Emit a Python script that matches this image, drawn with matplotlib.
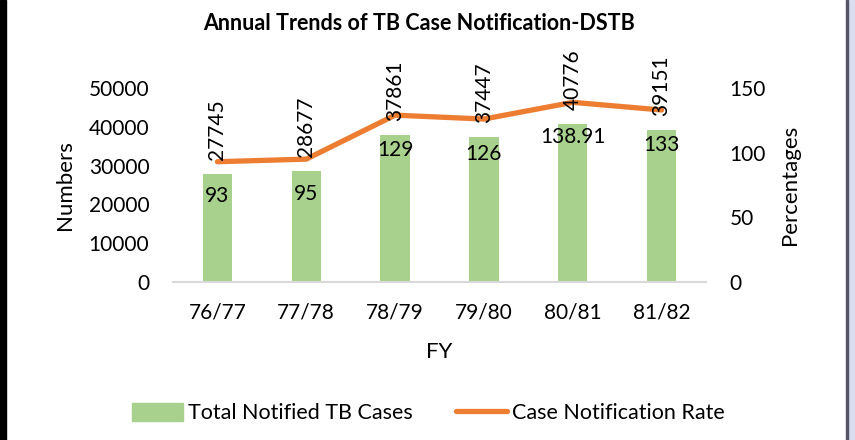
import matplotlib
matplotlib.use("Agg")
import matplotlib.pyplot as plt
from matplotlib.patches import Rectangle, Patch
from matplotlib.lines import Line2D
import numpy as np

# data
years = ["76/77", "77/78", "78/79", "79/80", "80/81", "81/82"]
cases = [27745, 28677, 37861, 37447, 40776, 39151]
rate = [93, 95, 129, 126, 138.91, 133]
rate_labels = ["93", "95", "129", "126", "138.91", "133"]

GREEN = "#A9D18E"
ORANGE = "#ED7D31"
plt.rcParams["font.family"] = ["Lato", "DejaVu Sans"]

W, H = 855, 440
fig = plt.figure(figsize=(W / 100, H / 100), dpi=100)
ax = fig.add_axes([173 / W, 1 - 282 / H, (706 - 173) / W, (282 - 88) / H])
ax2 = ax.twinx()

x = np.arange(len(years))
ax.bar(x, cases, width=0.33, color=GREEN, zorder=1)
ax.set_xlim(-0.5, len(years) - 0.5)
ax.set_ylim(0, 50000)
ax.set_yticks(range(0, 50001, 10000))
ax.set_xticks(x)
ax.set_xticklabels(years)

ax2.plot(x, rate, color=ORANGE, lw=3.8, solid_capstyle="round", zorder=3)
ax2.set_ylim(0, 150)
ax2.set_yticks([0, 50, 100, 150])

for a in (ax, ax2):
    for s in a.spines.values():
        s.set_visible(False)
ax.spines["bottom"].set_visible(True)
ax.spines["bottom"].set_color("#D9D9D9")
ax.spines["bottom"].set_linewidth(1.5)

ax.tick_params(axis="both", length=0, labelsize=15)
ax.tick_params(axis="y", pad=17)
ax.tick_params(axis="x", pad=15)
ax2.tick_params(axis="y", length=0, labelsize=15, pad=17)

# rotated bar value labels above bars, drawn over the line
for xi, v in zip(x, cases):
    ax2.annotate(str(v), (xi, v), xycoords=ax.transData, xytext=(0, 10),
                 textcoords="offset points", rotation=90, ha="center",
                 va="bottom", fontsize=15, zorder=5, annotation_clip=False)
# rate labels below line points
for xi, v, t in zip(x, rate, rate_labels):
    ax2.annotate(t, (xi, v), xytext=(0, -25), textcoords="offset points",
                 ha="center", va="center", fontsize=15, zorder=5,
                 annotation_clip=False)

ax.set_ylabel("Numbers", fontsize=16, labelpad=10)
ax2.set_ylabel("Percentages", fontsize=16, labelpad=10)
ax.set_xlabel("FY", fontsize=16, labelpad=14)
fig.text(419 / W, 1 - 23 / H, "Annual Trends of TB Case Notification-DSTB",
         ha="center", va="center", fontsize=15.5, fontweight="bold")

handles = [Patch(color=GREEN), Line2D([], [], color=ORANGE, lw=3.8, solid_capstyle="round")]
fig.legend(handles, ["Total Notified TB Cases", "Case Notification Rate"],
           loc="center", bbox_to_anchor=(428 / W, 1 - 413 / H), ncol=2,
           frameon=False, fontsize=15.5, handlelength=2.4, handleheight=0.9,
           handletextpad=0.2, columnspacing=2.0)

# frame remnants at the picture edges
fig.patches.append(Rectangle((0, 0), 6 / W, 1, transform=fig.transFigure,
                             color="black", zorder=0))
fig.patches.append(Rectangle((848 / W, 0), 7 / W, 1, transform=fig.transFigure,
                             color="#DADDF0", zorder=0))
fig.patches.append(Rectangle((846 / W, 0), 2 / W, 1, transform=fig.transFigure,
                             color="#555566", zorder=0))

fig.savefig("out.png", dpi=100)
